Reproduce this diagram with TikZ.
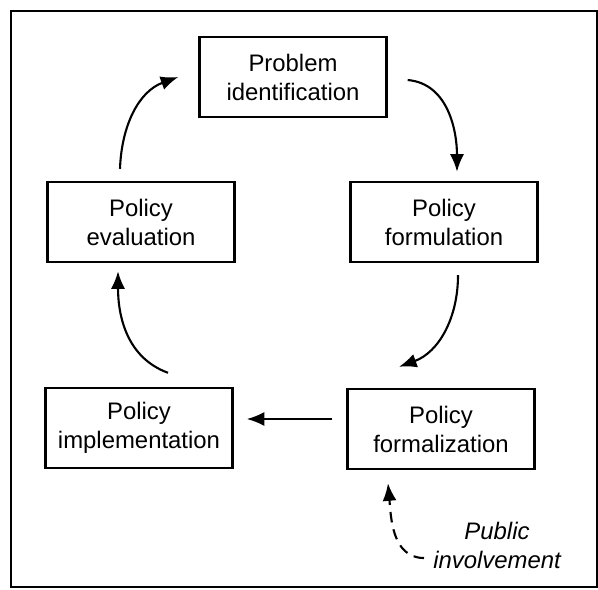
\documentclass[tikz,border=0pt]{standalone}
\usepackage{fontspec}
\setmainfont{Liberation Sans}
\usetikzlibrary{arrows.meta}

\begin{document}
\begin{tikzpicture}[x=0.02cm, y=-0.02cm,
	stage/.style={draw, line width=1.4pt, minimum width=3.74cm, minimum height=1.6cm,
		align=center, font=\fontsize{13.6}{16.5}\selectfont},
	flow/.style={-{Latex[length=10pt,width=8pt]}, line width=1.2pt}]
\useasboundingbox (0,0) rectangle (598,589);
\draw[line width=1.1pt] (11,11) rectangle (597,587);

% the five stages of the cycle
\node[stage] (prob) at (293,77) {Problem\\identification};
\node[stage] (eval) at (141,222) {Policy\\evaluation};
\node[stage] (form) at (444,222) {Policy\\formulation};
\node[stage] (impl) at (139,428) {Policy\\implementation};
\node[stage] (formal) at (441,429) {Policy\\formalization};

\draw[flow] ([shift={(-21,-12)}]eval.north) to[out=88, in=200] ([xshift=-0.4cm]prob.west);
\draw[flow] ([shift={(20,3)}]prob.east) to[out=-5, in=90] ([shift={(13,-9)}]form.north);
\draw[flow] ([shift={(14,12)}]form.south) to[out=-90, in=20] ([shift={(-42,-21)}]formal.north);
\draw[flow] ([shift={(-14,-10)}]formal.west) -- ([shift={(13,-9)}]impl.east);
\draw[flow] ([shift={(29,-14)}]impl.north) to[out=160, in=-90] ([shift={(-23,8)}]eval.south);

% public input into formalization
\node[font=\fontsize{13.6}{16.5}\selectfont\itshape, align=center] (pub) at (497,545) {Public\\involvement};
\coordinate (pubin) at (424,558);
\draw[flow, dash pattern=on 6pt off 4pt] (pubin) to[out=180, in=-85] ([shift={(-53,13)}]formal.south);

\end{tikzpicture}
\end{document}
